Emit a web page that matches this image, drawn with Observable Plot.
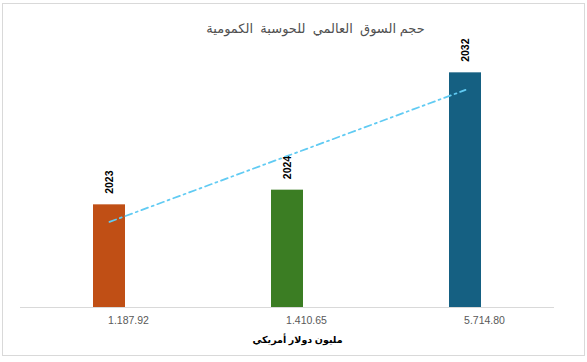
<!DOCTYPE html>
<html>
<head>
<meta charset="utf-8">
<script src="https://cdn.jsdelivr.net/npm/d3@7"></script>
<script src="https://cdn.jsdelivr.net/npm/@observablehq/plot@0.6"></script>
<style>
  html, body { margin: 0; padding: 0; background: #fff; }
  #wrap { position: relative; width: 587px; height: 362px; }
  #border { position: absolute; left: 2px; top: 3px; width: 581px; height: 351px; border: 1px solid #d9d9d9; box-sizing: content-box; pointer-events: none; }
  #wrap svg { position: absolute; left: 0; top: 0; }
</style>
</head>
<body>
<div id="wrap"><div id="border"></div></div>
<script>
// Data
const categories = ["1.187.92", "1.410.65", "5.714.80"];   // x-axis labels (USD million)
const years = [2023, 2024, 2032];                          // bar values / labels
const title = "حجم السوق  العالمي  للحوسبة  الكمومية";
const axisTitle = "مليون دولار أمريكي";

// Styles
const barColors = ["#C04F15", "#3B7D23", "#156082"];
const trendColor = "#61CBF3";

const rows = categories.map((c, i) => ({cat: c, year: years[i], color: barColors[i], idx: i}));

// Linear trend (least squares over category index)
const mx = d3.mean(rows, d => d.idx), my = d3.mean(rows, d => d.year);
const slope = d3.sum(rows, d => (d.idx - mx) * (d.year - my)) / d3.sum(rows, d => (d.idx - mx) ** 2);
const intercept = my - slope * mx;
const trend = rows.map(d => ({cat: d.cat, fit: intercept + slope * d.idx}));

const font = "'Liberation Sans', 'DejaVu Sans', Arial, sans-serif";

const chart = Plot.plot({
  width: 587,
  height: 362,
  marginLeft: 20,
  marginRight: 33,
  marginTop: 43,
  marginBottom: 55,
  style: {fontFamily: font, background: "transparent", overflow: "visible"},
  x: {domain: categories, paddingInner: 0.82, paddingOuter: 0.41, axis: null},
  y: {domain: [2016, 2034], axis: null},
  marks: [
    Plot.ruleY([2016], {stroke: "#d9d9d9", strokeWidth: 1}),
    Plot.barY(rows, {x: "cat", y1: 2016, y2: "year", fill: "color"}),
    Plot.line(trend, {x: "cat", y: "fit", stroke: trendColor, strokeWidth: 1.75, strokeDasharray: "7,4,2,4"}),
    Plot.text(rows, {x: "cat", y: "year", text: d => String(d.year), rotate: -90, textAnchor: "start", dy: -11, fontWeight: "bold", fontSize: 10.5, fill: "#000"}),
    Plot.axisX({tickSize: 0, tickPadding: 9, dx: 19, fontSize: 10.5, color: "#595959", label: null}),
    Plot.text([title], {frameAnchor: "top", dx: 28, dy: -20, fontSize: 13, fill: "#505050", text: d => d, style: "white-space: pre"}),
    Plot.text([axisTitle], {frameAnchor: "bottom", dx: 10, dy: 35, fontSize: 9.5, fontWeight: "bold", fill: "#000", text: d => d})
  ]
});
document.getElementById("wrap").appendChild(chart);
</script>
</body>
</html>
